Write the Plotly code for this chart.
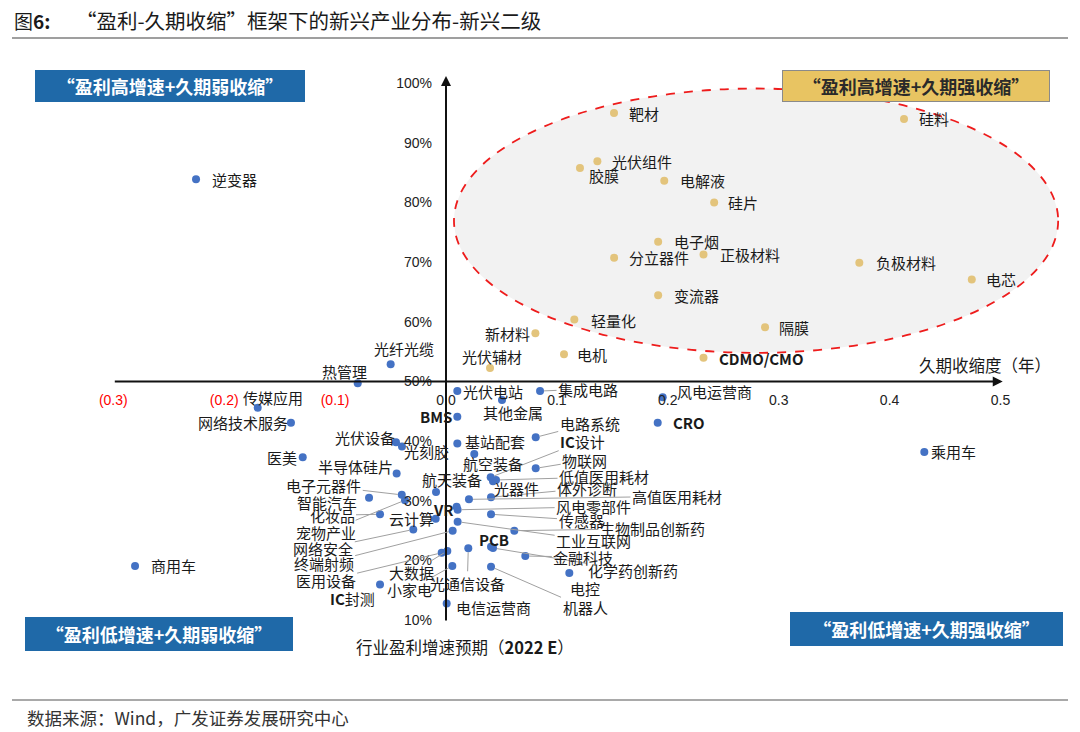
import re
import plotly.graph_objects as go

# ---------------- data ----------------
blue_names = ["逆变器", "光纤光缆", "热管理", "传媒应用", "网络技术服务", "医美", "光伏设备", "光刻胶",
              "半导体硅片", "电子元器件", "智能汽车", "化妆品", "宠物产业", "网络安全", "终端射频", "医用设备",
              "IC封测", "商用车", "大数据", "小家电", "光通信设备", "电信运营商", "机器人", "电控",
              "化学药创新药", "金融科技", "PCB", "工业互联网", "生物制品创新药", "传感器", "风电零部件", "VR",
              "云计算", "高值医用耗材", "体外诊断", "光器件", "低值医用耗材", "IC设计", "物联网", "电路系统",
              "航空装备", "基站配套", "其他金属", "集成电路", "光伏电站", "BMS", "风电运营商", "CRO",
              "乘用车", "航天装备"]
blue_x = [-0.2254, -0.0499, -0.0796, -0.1698, -0.1398, -0.1292, -0.0451, -0.0397,
          -0.0445, -0.0399, -0.0694, -0.0595, -0.0370, -0.0295, 0.0060, -0.0039,
          -0.0595, -0.2804, 0.0012, 0.0057, 0.0201, 0.0006, 0.0406, 0.1112,
          0.0424, 0.0715, 0.0406, 0.0105, 0.0616, 0.0406, 0.0105, 0.0096,
          -0.0093, 0.0207, 0.0406, 0.0424, 0.0451, 0.0403, 0.0809, 0.0809,
          0.0255, 0.0102, 0.0505, 0.0848, 0.0102, 0.0102, 0.1954, 0.1909,
          0.4313, -0.0090]
blue_y = [83.9, 52.9, 49.7, 45.6, 43.1, 37.3, 39.8, 39.1,
          34.6, 31.0, 30.5, 27.75, 30.1, 25.2, 25.0, 21.3,
          16.0, 19.1, 21.6, 19.1, 22.05, 12.8, 18.96, 17.9,
          22.1, 20.75, 22.3, 26.5, 25.0, 27.75, 28.5, 29.0,
          27.0, 30.25, 30.6, 33.3, 33.5, 33.95, 35.45, 40.65,
          37.85, 39.6, 46.9, 48.4, 48.4, 44.1, 47.35, 43.1,
          38.2, 31.5]

gold_names = ["靶材", "硅料", "光伏组件", "胶膜", "电解液", "硅片", "电子烟", "分立器件", "正极材料",
              "负极材料", "电芯", "变流器", "轻量化", "隔膜", "新材料", "电机", "光伏辅材", "CDMO/CMO"]
gold_x = [0.1515, 0.4130, 0.1365, 0.1208, 0.1968, 0.2418, 0.1913, 0.1516, 0.2322,
          0.3727, 0.4741, 0.1913, 0.1157, 0.2877, 0.0806, 0.1064, 0.0397, 0.2322]
gold_y = [95.0, 94.0, 86.9, 85.8, 83.65, 80.0, 73.4, 70.75, 71.3,
          69.9, 67.1, 64.45, 60.4, 59.1, 58.1, 54.55, 52.26, 54.0]

x_tick_vals = [-0.3, -0.2, -0.1, 0.0, 0.1, 0.2, 0.3, 0.4, 0.5]
x_tick_text = ["(0.3)", "(0.2)", "(0.1)", "0.0", "0.1", "0.2", "0.3", "0.4", "0.5"]
y_tick_vals = [10, 20, 30, 40, 50, 60, 70, 80, 90, 100]
y_tick_text = ["10%", "20%", "30%", "40%", "50%", "60%", "70%", "80%", "90%", "100%"]

title_text = "“盈利-久期收缩”框架下的新兴产业分布-新兴二级"
x_title = "行业盈利增速预期（<b>2022 E</b>）"
y_title = "久期收缩度（年）"
source_text = "数据来源：Wind，广发证券发展研究中心"
quadrants = ["“盈利高增速+久期弱收缩”", "“盈利高增速+久期强收缩”",
             "“盈利低增速+久期弱收缩”", "“盈利低增速+久期强收缩”"]

# ---------------- styling / label placement (pixel offsets) ----------------
W, H = 1080, 732
X0PX, XSCALE = 446, 1109.0   # pixel of x=0, pixels per unit
Y50PX, YSCALE = 381.5, 5.967  # pixel of y=50%, pixels per percent
x_range = [(0 - X0PX) / XSCALE, (W - X0PX) / XSCALE]
y_range = [50 - (H - Y50PX) / YSCALE, 50 + Y50PX / YSCALE]

# name: (dx, dy, leader)
label_pos = {
    "靶材": (30, 1, False), "硅料": (30, 0, False), "光伏组件": (45, 0, False), "胶膜": (24, 8, False),
    "电解液": (38, 0, False), "硅片": (29, 0, False), "电子烟": (38, 0, False), "分立器件": (45, 0, False),
    "正极材料": (46, 0, False), "负极材料": (47, 0, False), "电芯": (29, 0, False), "变流器": (38, 0, False),
    "轻量化": (39, 1, False), "隔膜": (29, 0, False), "新材料": (-28, 0, False), "电机": (28, 0, False),
    "光伏辅材": (2, -12, False), "CDMO/CMO": (57, 1, False),
    "逆变器": (38, 0, False), "光纤光缆": (13, -16, False), "热管理": (-13, -12, False),
    "传媒应用": (15, -10, False), "网络技术服务": (-48, 0, False), "医美": (-21, 0, False),
    "光伏设备": (-31, -5, False), "光刻胶": (25, 5, False), "半导体硅片": (-41, -7, False),
    "电子元器件": (-78, -9, True), "智能汽车": (-42, 5, False), "化妆品": (-48, 1, True),
    "宠物产业": (-79, 32, True), "网络安全": (-90, 19, True), "终端射频": (-129, 33, True),
    "医用设备": (-116, 28, True), "IC封测": (-28, 14, False), "商用车": (38, 0, False),
    "大数据": (-36, 22, True), "小家电": (-43, 24, True), "光通信设备": (-1, 35, True),
    "电信运营商": (47, 4, False), "机器人": (94, 41, True), "电控": (16, 15, False),
    "化学药创新药": (140, 23, True), "金融科技": (58, 1, True), "PCB": (3, -7, False),
    "工业互联网": (136, 19, True), "生物制品创新药": (138, -2, True), "传感器": (90, 6, True),
    "风电零部件": (136, -3, True), "VR": (-13, 3, False), "云计算": (-24, 0, False),
    "高值医用耗材": (208, -3, True), "体外诊断": (96, -9, True), "光器件": (23, 7, False),
    "低值医用耗材": (108, -3, True), "IC设计": (92, -36, True), "物联网": (49, -8, True),
    "电路系统": (54, -14, True), "航空装备": (19, 9, False), "基站配套": (38, -2, False),
    "其他金属": (11, 12, False), "集成电路": (48, -2, True), "光伏电站": (36, 0, False),
    "BMS": (-21, 0, False), "风电运营商": (52, -6, False), "CRO": (31, 0, False),
    "乘用车": (29, 0, False), "航天装备": (16, -12, False),
}

CJK = "Noto Sans CJK SC"
LAT = "Liberation Sans, Noto Sans CJK SC"
BLUE = "#4472c4"
GOLD = "#e3c47c"
BOX_BLUE = "#1f69a8"
BOX_GOLD = "#e8c462"


def fmt(name):
    return re.sub(r"([A-Za-z/]+)", r"<b>\1</b>", name)


fig = go.Figure()
fig.add_trace(go.Scatter(x=blue_x, y=blue_y, mode="markers", hoverinfo="skip",
                         marker=dict(color=BLUE, size=8, line=dict(width=0))))
fig.add_trace(go.Scatter(x=gold_x, y=gold_y, mode="markers", hoverinfo="skip",
                         marker=dict(color=GOLD, size=8, line=dict(width=0))))

# ellipse
fig.add_shape(type="circle", xref="x", yref="y", x0=0.0072, x1=0.552, y0=54.8, y1=99.1,
              fillcolor="#f2f2f2", line=dict(color="#ee1c1c", width=1.8, dash="dash"), layer="below")

annotations = []
# axis lines with arrows
annotations.append(dict(x=0.0, y=101.2, ax=0.0, ay=9.7, xref="x", yref="y", axref="x", ayref="y",
                        text="", showarrow=True, arrowhead=2, arrowsize=1, arrowwidth=2, arrowcolor="#111"))
annotations.append(dict(x=0.502, y=50, ax=-0.3, ay=50, xref="x", yref="y", axref="x", ayref="y",
                        text="", showarrow=True, arrowhead=2, arrowsize=1, arrowwidth=2, arrowcolor="#111"))

for names, xs, ys in ((blue_names, blue_x, blue_y), (gold_names, gold_x, gold_y)):
    for n, xv, yv in zip(names, xs, ys):
        dx, dy, leader = label_pos[n]
        a = dict(x=xv, y=yv, xref="x", yref="y", text=fmt(n),
                 font=dict(family=CJK, size=15, color="#1a1a1a"))
        if leader:
            a.update(showarrow=True, ax=dx, ay=dy, arrowhead=0, arrowwidth=1,
                     arrowcolor="#a0a0a0", standoff=4)
        else:
            a.update(showarrow=False, xshift=dx, yshift=-dy)
        annotations.append(a)


def px2paper(px, py):
    return px / W, 1 - py / H


# quadrant boxes: (text, cx, cy, w, h, bg, fg, border)
boxes = [
    (quadrants[0], 170, 86, 270, 32, BOX_BLUE, "#ffffff", BOX_BLUE),
    (quadrants[1], 916, 86, 268, 32, BOX_GOLD, "#2a2a2a", "#8a8a8a"),
    (quadrants[2], 159, 634, 268, 34, BOX_BLUE, "#ffffff", BOX_BLUE),
    (quadrants[3], 926, 629, 273, 34, BOX_BLUE, "#ffffff", BOX_BLUE),
]
for t, cx, cy, bw, bh, bg, fg, bc in boxes:
    xp, yp = px2paper(cx, cy)
    annotations.append(dict(x=xp, y=yp, xref="paper", yref="paper", xanchor="center", yanchor="middle",
                            text="<b>" + t + "</b>",
                            showarrow=False, width=bw - 2, height=bh - 2, bgcolor=bg,
                            bordercolor=bc, borderwidth=1, borderpad=0,
                            font=dict(family=CJK, size=18, color=fg)))

# titles
xp, yp = px2paper(12, 20)
annotations.append(dict(x=xp, y=yp, xref="paper", yref="paper", xanchor="left", yanchor="middle",
                        text="图<b>6:</b>", showarrow=False, font=dict(family=CJK, size=19, color="#1a1a1a")))
xp, yp = px2paper(74, 20)
annotations.append(dict(x=xp, y=yp, xref="paper", yref="paper", xanchor="left", yanchor="middle",
                        text=title_text, showarrow=False, font=dict(family=CJK, size=20.5, color="#1a1a1a")))
xp, yp = px2paper(465, 647)
annotations.append(dict(x=xp, y=yp, xref="paper", yref="paper", xanchor="center", yanchor="middle",
                        text=x_title, showarrow=False,
                        font=dict(family=CJK, size=16.5, color="#1a1a1a")))
xp, yp = px2paper(985, 365)
annotations.append(dict(x=xp, y=yp, xref="paper", yref="paper", xanchor="center", yanchor="middle",
                        text=y_title, showarrow=False,
                        font=dict(family=CJK, size=16.5, color="#1a1a1a")))
xp, yp = px2paper(25, 717)
annotations.append(dict(x=xp, y=yp, xref="paper", yref="paper", xanchor="left", yanchor="middle",
                        text=source_text, showarrow=False, font=dict(family=CJK, size=17.5, color="#333333")))

shapes_extra = [
    dict(type="line", xref="paper", yref="paper", x0=12 / W, x1=1068 / W, y0=1 - 38 / H, y1=1 - 38 / H,
         line=dict(color="#7f7f7f", width=1.5)),
    dict(type="line", xref="paper", yref="paper", x0=12 / W, x1=1068 / W, y0=1 - 700 / H, y1=1 - 700 / H,
         line=dict(color="#555555", width=1.2)),
]
for s in shapes_extra:
    fig.add_shape(**s)

x_text = ['<span style="color:#ff0000">%s</span>' % t if v < 0 else t
          for v, t in zip(x_tick_vals, x_tick_text)]

fig.update_layout(
    width=W, height=H, margin=dict(l=0, r=0, t=0, b=0, pad=0),
    paper_bgcolor="white", plot_bgcolor="white", showlegend=False, hovermode=False,
    annotations=annotations,
    xaxis=dict(range=x_range, anchor="free", position=1 - Y50PX / H, showgrid=False, zeroline=False,
               showline=False, ticks="", tickvals=x_tick_vals, ticktext=x_text, automargin=False,
               tickfont=dict(family=LAT, size=14, color="#222"), ticklabelstandoff=8, fixedrange=True),
    yaxis=dict(range=y_range, anchor="free", position=X0PX / W, showgrid=False, zeroline=False,
               showline=False, ticks="", tickvals=y_tick_vals, ticktext=y_tick_text, automargin=False,
               tickfont=dict(family=LAT, size=14, color="#222"), ticklabelstandoff=14, fixedrange=True),
)

fig.write_html("out.html", config={"displayModeBar": False, "staticPlot": True},
               post_script="document.body.style.margin='0';document.body.style.overflow='hidden';")
